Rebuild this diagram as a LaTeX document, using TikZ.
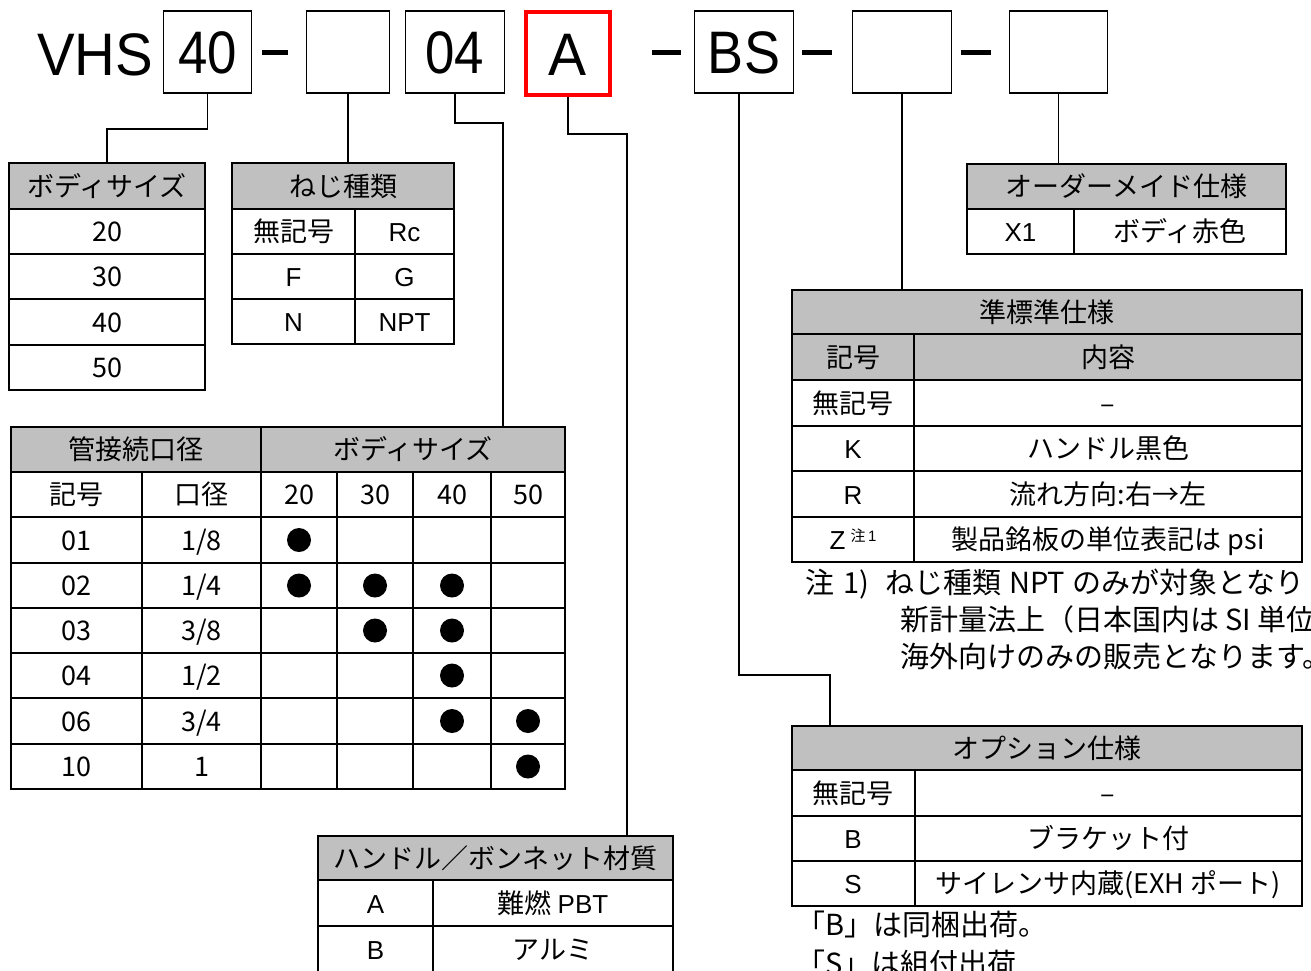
\documentclass[tikz,border=0pt]{standalone}
\usepackage{fontspec}
\usepackage{graphicx}
\setmainfont{Noto Sans CJK JP}
\newfontfamily\latfam{Liberation Sans}
\newcommand\cellfont{\fontsize{27}{27}\selectfont}
\newcommand\notefont{\fontsize{29}{29}\selectfont}
\newcommand\latfont{\latfam\fontsize{26}{26}\selectfont}
\newcommand\bigfont{\latfam\fontsize{60}{60}\selectfont}
\definecolor{hdrgray}{RGB}{192,192,192}
\tikzset{
  conn/.style={line width=1.5pt},
  frame/.style={draw, line width=2pt, inner sep=0pt},
  gridline/.style={line width=2pt},
  cell/.style={inner sep=0pt, font=\cellfont, text height=20pt, text depth=0pt},
  lcell/.style={cell, font=\latfont},
  note/.style={inner sep=0pt, font=\notefont, text height=21pt, text depth=0pt, anchor=west},
  topbox/.style={draw, line width=1.6pt, inner sep=0pt, minimum height=82pt, text height=43pt, text depth=0pt, font=\bigfont},
  dot/.style={circle, fill, inner sep=0pt, minimum size=24pt},
  dashbar/.style={line width=5pt},
}
\begin{document}
\begin{tikzpicture}[x=1pt,y=-1pt]
\useasboundingbox (0,0) rectangle (1311,970);
\clip (0,0) rectangle (1311,970);

% ---------- top code row ----------
\node[anchor=base west, inner sep=0pt, font=\bigfont] (vhs) at (37,75) {\scalebox{0.94}[1]{VHS}};
\node[topbox, minimum width=88pt] (b1) at (207.5,52) {\scalebox{0.88}[1]{40}};
\node[topbox, minimum width=83pt] (b2) at (348,52) {};
\node[topbox, minimum width=99pt] (b3) at (455,52) {\scalebox{0.88}[1]{04}};
\node[topbox, draw=red, line width=4pt, minimum width=84pt, minimum height=83pt] (bA) at (568,53.5) {\scalebox{0.95}[1]{A}};
\node[topbox, minimum width=99pt] (bBS) at (744,52) {\scalebox{0.9}[1]{BS}};
\node[topbox, minimum width=99pt] (b6) at (902,52) {};
\node[topbox, minimum width=98pt] (b7) at (1058.5,52) {};
\draw[dashbar] (262,52) -- (288,52);
\draw[dashbar] (652,52) -- (681,52);
\draw[dashbar] (802,52) -- (832,52);
\draw[dashbar] (961,52) -- (991,52);

% ---------- header fills ----------
\fill[hdrgray] (9,163) rectangle (205,209);
\fill[hdrgray] (232,163) rectangle (454,209);
\fill[hdrgray] (11,427) rectangle (565,472);
\fill[hdrgray] (318,836) rectangle (673,880);
\fill[hdrgray] (967,164) rectangle (1286,209);
\fill[hdrgray] (792,290) rectangle (1302,380);
\fill[hdrgray] (792,726) rectangle (1302,770);

% ---------- inner grid lines ----------
\foreach \y in {209,254,299,345} \draw[gridline] (9,\y) -- (205,\y);
\foreach \y in {209,254,299} \draw[gridline] (232,\y) -- (454,\y);
\draw[gridline] (355,209) -- (355,344);
\foreach \y in {472,517,563,608,653,698,744} \draw[gridline] (11,\y) -- (565,\y);
\draw[gridline] (261,427) -- (261,789);
\foreach \x in {142,337,413,491} \draw[gridline] (\x,472) -- (\x,789);
\foreach \y in {880,926} \draw[gridline] (318,\y) -- (673,\y);
\draw[gridline] (433,880) -- (433,975);
\draw[gridline] (967,209) -- (1286,209);
\draw[gridline] (1074,209) -- (1074,254);
\foreach \y in {334,380,426,471,517} \draw[gridline] (792,\y) -- (1302,\y);
\draw[gridline] (914,334) -- (914,562);
\foreach \y in {770,816,861} \draw[gridline] (792,\y) -- (1302,\y);
\draw[gridline] (915,770) -- (915,906);

% ---------- table frames ----------
\node[frame, minimum width=196pt, minimum height=227pt] (tBody) at (107,276.5) {};
\node[frame, minimum width=222pt, minimum height=181pt] (tNeji) at (343,253.5) {};
\node[frame, minimum width=554pt, minimum height=362pt] (tPipe) at (288,608) {};
\node[frame, minimum width=355pt, minimum height=139pt] (tMat) at (495.5,905.5) {};
\node[frame, minimum width=319pt, minimum height=90pt] (tOrd) at (1126.5,209) {};
\node[frame, minimum width=510pt, minimum height=272pt] (tStd) at (1047,426) {};
\node[frame, minimum width=510pt, minimum height=180pt] (tOpt) at (1047,816) {};

% ---------- connectors ----------
\coordinate (k1) at (207.5,129);
\draw[conn] (b1.south) -- (k1) -| (tBody.north);
\draw[conn] (b2.south) -- (b2.south |- tNeji.north);
\coordinate (k3) at (455,123);
\coordinate (k3e) at (503,427);
\draw[conn] (b3.south) -- (k3) -| (k3e);
\coordinate (k4) at (568,134);
\coordinate (k4e) at (627,836);
\draw[conn] (bA.south) -- (k4) -| (k4e);
\coordinate (k5) at (739,675);
\coordinate (k5e) at (830,726);
\draw[conn] ([xshift=-5pt]bBS.south) -- (k5) -| (k5e);
\draw[conn] (b6.south) -- (b6.south |- tStd.north);
\draw[conn] (b7.south) -- (b7.south |- tOrd.north);

% ---------- body size table ----------
\node[cell] (bh) at (107,186) {ボディサイズ};
\foreach \v/\yy [count=\i] in {20/231.5,30/276.5,40/322,50/367.5}
  \node[cell] (bs\i) at (107,\yy) {\v};

% ---------- thread table ----------
\node[cell] (nh) at (343,186) {ねじ種類};
\node[cell] (n1a) at (293.5,231.5) {無記号};
\node[lcell] (n1b) at (404.5,231.5) {Rc};
\node[lcell] (n2a) at (293.5,276.5) {F};
\node[lcell] (n2b) at (404.5,276.5) {G};
\node[lcell] (n3a) at (293.5,321.5) {N};
\node[lcell] (n3b) at (404.5,321.5) {NPT};

% ---------- port size table ----------
\node[cell] (ph1) at (136,449.5) {管接続口径};
\node[cell] (ph2) at (413,449.5) {ボディサイズ};
\node[cell] (pk1) at (76.5,494.5) {記号};
\node[cell] (pk2) at (201.5,494.5) {口径};
\foreach \v/\xx [count=\i] in {20/299,30/375,40/452,50/528}
  \node[cell] (pk\i s) at (\xx,494.5) {\v};
\foreach \code/\dia/\yy [count=\i] in {01/{1/8}/540,02/{1/4}/585.5,03/{3/8}/630.5,04/{1/2}/675.5,06/{3/4}/721,10/{1}/766.5}{
  \node[cell] (pc\i) at (76.5,\yy) {\code};
  \node[cell] (pd\i) at (201.5,\yy) {\dia};
}
\foreach \x/\y [count=\k] in {299/540,299/585.5,375/585.5,452/585.5,375/630.5,452/630.5,452/675.5,452/721,528/721,528/766.5}
  \node[dot] (dot\k) at (\x,\y) {};

% ---------- handle / bonnet material ----------
\node[cell] (mh) at (495.5,858) {ハンドル／ボンネット材質};
\node[lcell] (m1a) at (375.5,903) {A};
\node[cell] (m1b) at (553,903) {難燃 {\latfont PBT}};
\node[lcell] (m2a) at (375.5,949) {B};
\node[cell] (m2b) at (553,949) {アルミ};

% ---------- made to order ----------
\node[cell] (oh) at (1126.5,186.5) {オーダーメイド仕様};
\node[lcell] (o1a) at (1020.5,231.5) {X1};
\node[cell] (o1b) at (1180,231.5) {ボディ赤色};

% ---------- semi-standard ----------
\node[cell] (sh) at (1047,312) {準標準仕様};
\node[cell] (sk1) at (853,357) {記号};
\node[cell] (sk2) at (1108,357) {内容};
\node[cell] (s1a) at (853,403) {無記号};
\node[cell] (s1b) at (1108,403) {–};
\node[lcell] (s2a) at (853,448.5) {K};
\node[cell] (s2b) at (1108,448.5) {ハンドル黒色};
\node[lcell] (s3a) at (853,494) {R};
\node[cell] (s3b) at (1108,494) {流れ方向:右→左};
\node[cell] (s4a) at (853,539.5) {{\latfont Z}\hspace{5pt}\raisebox{8pt}{\fontsize{15}{15}\selectfont 注\,{\latfam 1}}};
\node[cell] (s4b) at (1108,539.5) {製品銘板の単位表記は psi};
\node[note] (nt1) at (805,583) {注\hspace{9pt}1)\hspace{16pt}ねじ種類\hspace{8pt}NPT\hspace{8pt}のみが対象となり};
\node[note] (nt2) at (900,620) {新計量法上（日本国内は SI 単位};
\node[note] (nt3) at (900,657) {海外向けのみの販売となります。};

% ---------- options ----------
\node[cell] (ph) at (1047,748) {オプション仕様};
\node[cell] (p1a) at (853,793) {無記号};
\node[cell] (p1b) at (1108,793) {–};
\node[lcell] (p2a) at (853,838.5) {B};
\node[cell] (p2b) at (1108,838.5) {ブラケット付};
\node[lcell] (p3a) at (853,883.5) {S};
\node[cell] (p3b) at (1108,883.5) {サイレンサ内蔵(EXH ポート)};
\node[note] (nt4) at (796,925) {「B」は同梱出荷。};
\node[note] (nt5) at (796,964) {「S」は組付出荷};
\end{tikzpicture}
\end{document}
